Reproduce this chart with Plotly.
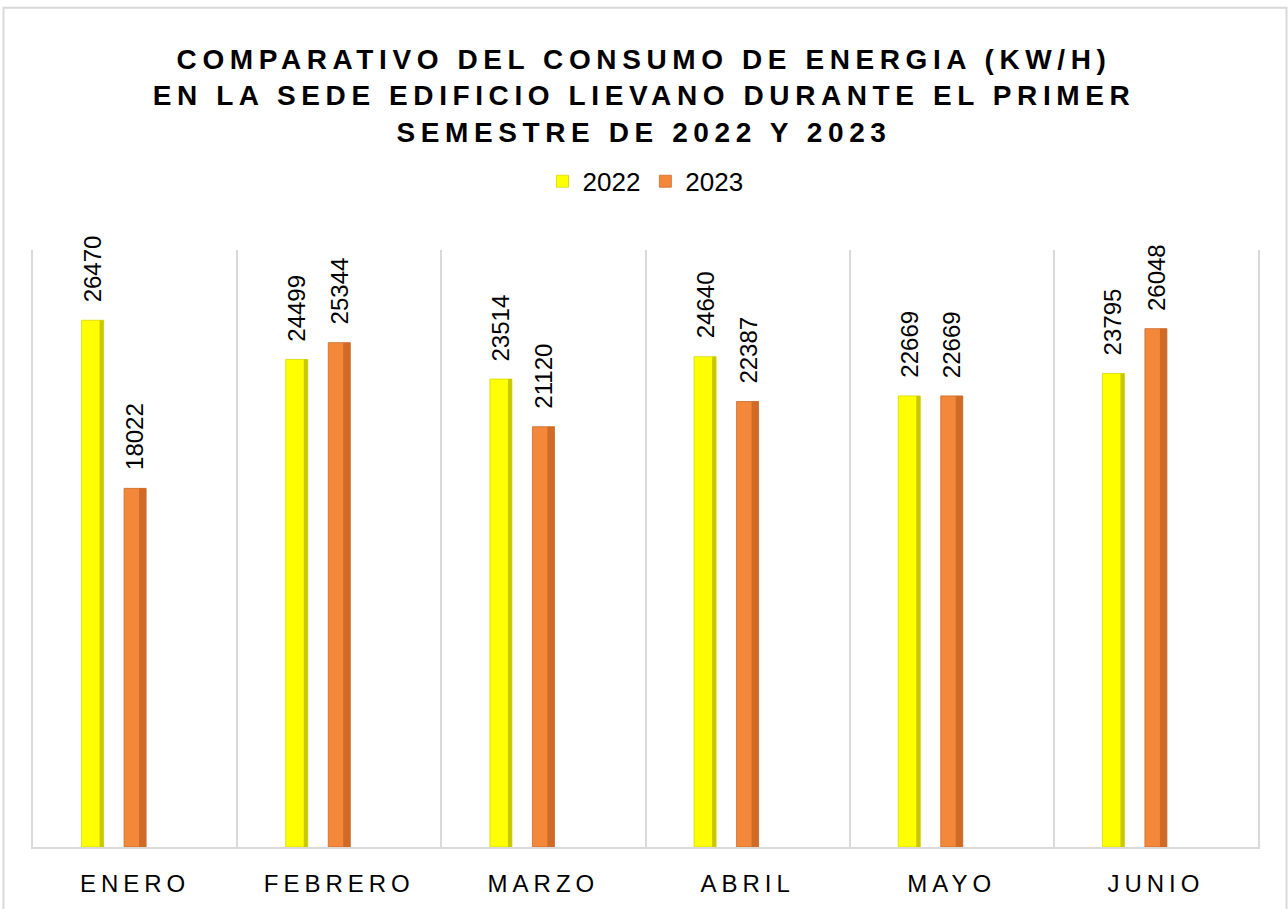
import plotly.graph_objects as go

months = ["ENERO", "FEBRERO", "MARZO", "ABRIL", "MAYO", "JUNIO"]
series_names = ["2022", "2023"]
values_2022 = [26470, 24499, 23514, 24640, 22669, 23795]
values_2023 = [18022, 25344, 21120, 22387, 22669, 26048]

W, H = 1288, 909
ML, MR, MT, MB = 33, 30, 250, 59
plot_w = W - ML - MR
plot_h = H - MT - MB
cat_px = plot_w / len(months)

bar_w = 22 / cat_px
centers = [-42.5 / cat_px, 0.0]
main_colors = ["#FFFF00", "#F4883A"]
edge_colors = ["#C8C800", "#CF6A27"]
edge_w = [4 / cat_px, 7 / cat_px]
line_colors = ["#D8D800", "#C96A2A"]

fig = go.Figure()
for i, (name, vals) in enumerate(zip(series_names, [values_2022, values_2023])):
    off = centers[i] - bar_w / 2
    fig.add_trace(go.Bar(
        x=months, y=vals, name=name,
        width=[bar_w] * len(months), offset=off,
        marker=dict(color=main_colors[i], line=dict(color=line_colors[i], width=0.8)),
        hoverinfo="skip",
    ))
    fig.add_trace(go.Bar(
        x=months, y=vals, name=name + " edge", showlegend=False,
        width=[edge_w[i]] * len(months), offset=off + bar_w - edge_w[i],
        marker=dict(color=edge_colors[i], line=dict(width=0)),
        hoverinfo="skip",
    ))

annotations = []
for i, vals in enumerate([values_2022, values_2023]):
    for m, v in zip(months, vals):
        annotations.append(dict(
            x=m, y=v, xref="x", yref="y", text=str(v), showarrow=False,
            textangle=-90, yanchor="bottom", xanchor="center",
            xshift=centers[i] * cat_px, yshift=16,
            font=dict(family="Liberation Sans, Arial", size=24, color="#000000"),
        ))

fig.update_layout(
    width=W, height=H,
    margin=dict(l=ML, r=MR, t=MT, b=MB),
    paper_bgcolor="white", plot_bgcolor="white",
    barmode="overlay",
    title=dict(
        text="COMPARATIVO DEL CONSUMO DE ENERGIA (KW/H)<br>EN LA SEDE EDIFICIO LIEVANO DURANTE EL PRIMER<br>SEMESTRE DE 2022 Y 2023",
        x=0.5, xanchor="center", xref="container",
        y=1 - 69 / H, yanchor="top", yref="container",
        font=dict(family="Liberation Sans, Arial", size=28, color="#000000", weight="bold"),
    ),
    legend=dict(
        orientation="h", x=0.5, xanchor="center", y=1 + (MT - 181) / plot_h, yanchor="middle",
        font=dict(family="Liberation Sans, Arial", size=26, color="#000000"),
        traceorder="normal", itemwidth=30,
    ),
    xaxis=dict(
        type="category", range=[-0.5, 5.5], tickson="boundaries",
        showgrid=True, gridcolor="#D9D9D9", gridwidth=1.5,
        showline=True, linecolor="#D9D9D9", linewidth=2,
        ticks="", ticklabelstandoff=14,
        tickfont=dict(family="Liberation Sans, Arial", size=24, color="#000000"),
        fixedrange=True,
    ),
    yaxis=dict(
        range=[0, 30000], showgrid=False, zeroline=False,
        showticklabels=False, ticks="",
        showline=True, mirror=True, linecolor="#D9D9D9", linewidth=1.5,
        fixedrange=True,
    ),
    annotations=annotations,
    shapes=[dict(
        type="rect", xref="paper", yref="paper",
        x0=(3.5 - ML) / plot_w, x1=(1286.5 - ML) / plot_w,
        y0=-(MB + 10) / plot_h, y1=1 + (MT - 6.5) / plot_h,
        line=dict(color="#D9D9D9", width=2), fillcolor="rgba(0,0,0,0)", layer="below",
    )],
)

post = """
document.body.style.margin='0';
document.body.style.overflow='hidden';
document.querySelectorAll('.gtitle').forEach(function(e){e.style.letterSpacing='5.6px';});
document.querySelectorAll('.xtick text').forEach(function(e){e.style.letterSpacing='5px';});
"""
fig.write_html("out.html", post_script=post, config={"displayModeBar": False})
